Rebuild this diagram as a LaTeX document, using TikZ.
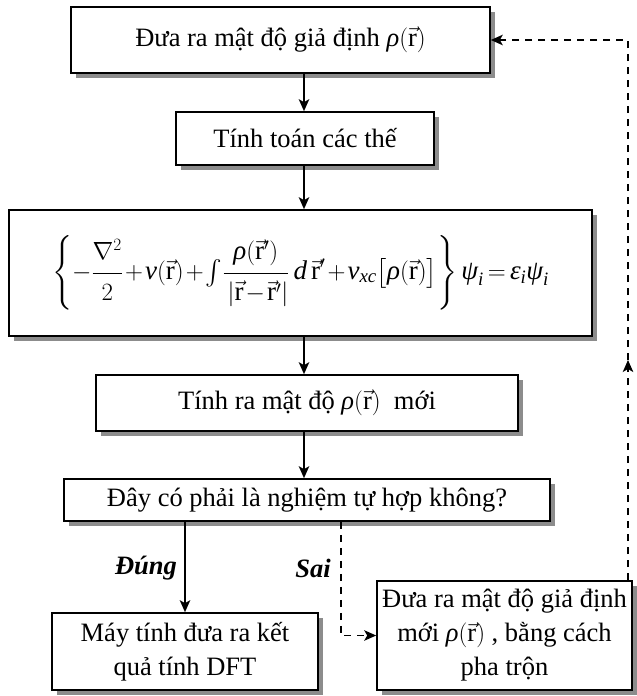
\documentclass[tikz,border=0pt]{standalone}
\usepackage{amsmath}
\usepackage{fontspec}
\setmainfont{Liberation Serif}
\usetikzlibrary{arrows.meta}

% upright vector r and italic serif letters inside formulas
\newcommand{\rv}{\vec{\mathrm{r}}}
\newcommand{\mi}[1]{\text{\itshape #1}}
\definecolor{shadowgrey}{RGB}{140,140,140}

\tikzset{
  box/.style={draw, line width=1.6pt, fill=white, inner sep=2pt,
    align=center, font=\fontsize{26.5}{34}\selectfont},
  boxshadow/.style={fill=shadowgrey, draw=none},
  flow/.style={line width=1.8pt, -{Stealth[length=12pt,width=10.5pt,inset=3pt]}},
  dflow/.style={line width=1.5pt, dash pattern=on 7pt off 6pt,
    -{Stealth[length=12pt,width=10.5pt,inset=3pt]}},
  lbl/.style={font=\fontsize{26.5}{32}\selectfont\bfseries\itshape}
}

% a box with its grey offset shadow: name, centre x, centre y, width, height, text
\newcommand{\shadowedbox}[6]{%
  \fill[boxshadow] ({#2-#4/2+5},{#3-#5/2+5}) rectangle ({#2+#4/2+5},{#3+#5/2+5});
  \node[box, minimum width=#4pt, minimum height=#5pt] (#1) at (#2,#3) {#6};
}

\begin{document}
\begin{tikzpicture}[x=1pt, y=-1pt]
\useasboundingbox (0,0) rectangle (637,696);

% process boxes
\shadowedbox{b1}{280.5}{40}{419}{66}{Đưa ra mật độ giả định $\mi{ρ}(\rv)$}
\shadowedbox{b2}{305}{138.5}{258}{53}{Tính toán các thế}
\shadowedbox{b3}{300.5}{273}{583}{126}{\fontsize{27}{34}\selectfont\medmuskip=1.5mu\thickmuskip=3mu
   $\displaystyle \left\{-\frac{\strut\nabla^{2}}{\strut 2}+\mi{v}(\rv)+{\textstyle\int}\frac{\strut\mi{ρ}(\rv')}{\strut\left|\rv-\rv'\right|}\,\mi{d}\,\rv'+\mi{v}_{\mi{xc}}\bigl[\mi{ρ}(\rv)\bigr]\right\}\mi{ψ}_{\mi{i}}=\mi{ε}_{\mi{i}}\mi{ψ}_{\mi{i}}$}
\shadowedbox{b4}{307}{403}{422}{56}{Tính ra mật độ $\mi{ρ}(\rv)$\ \ mới}
\shadowedbox{b5}{307}{500}{486}{42}{Đây có phải là nghiệm tự hợp không?}
\shadowedbox{b6}{185}{651.5}{266}{77}{Máy tính đưa ra kết\\quả tính DFT}
\shadowedbox{b7}{504.5}{635.5}{255}{109}{Đưa ra mật độ giả định\\mới $\mi{ρ}(\rv)$ , bằng cách\\pha trộn}

% guide columns for connectors
\coordinate (col) at (304,0);
\coordinate (saix) at (341,0);
\coordinate (fbx) at (628,0);
\coordinate (mid) at (628,360);

% main chain
\draw[flow] (b1.south -| col) -- (b2.north -| col);
\draw[flow] (b2.south -| col) -- (b3.north -| col);
\draw[flow] (b3.south -| col) -- (b4.north -| col);
\draw[flow] (b4.south -| col) -- (b5.north -| col);
\draw[flow] (b5.south -| b6.north) -- (b6.north);

% branch on failure and feedback loop
\draw[dflow] (b5.south -| saix) |- (b7.west);
\draw[dflow] (b7.north -| fbx) -- (mid);
\draw[dflow] (mid) |- (b1.east);

% branch labels
\node[lbl] (yes) at (146,568) {Đúng};
\node[lbl] (no) at (313,568) {Sai};
\end{tikzpicture}
\end{document}
